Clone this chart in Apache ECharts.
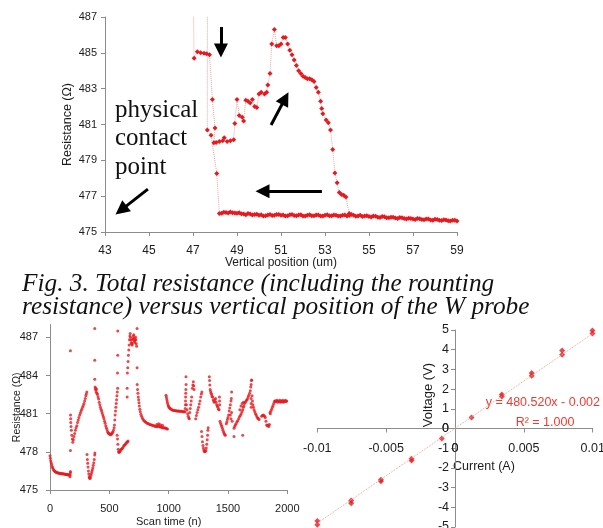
<!DOCTYPE html>
<html><head><meta charset="utf-8">
<script src="https://cdn.jsdelivr.net/npm/echarts@6/dist/echarts.min.js"></script>
<style>html,body{margin:0;padding:0;background:#fff}#c{width:603px;height:528px}</style>
</head><body><div id="c"></div>
<script>
// ---------- Fig. 3 (top): resistance vs vertical position ----------
// approach sweep along the bottom, read right to left [um, ohm]
const approachPts = [
[59.0,475.62],[58.9,475.65],[58.8,475.66],[58.7,475.62],[58.6,475.63],[58.5,475.67],[58.4,475.69],[58.3,475.64],
[58.2,475.66],[58.1,475.70],[58.0,475.71],[57.9,475.66],[57.8,475.67],[57.7,475.72],[57.6,475.73],[57.5,475.68],
[57.4,475.70],[57.3,475.74],[57.2,475.75],[57.1,475.70],[57.0,475.72],[56.9,475.76],[56.8,475.77],[56.7,475.72],
[56.6,475.75],[56.5,475.79],[56.4,475.81],[56.3,475.76],[56.2,475.78],[56.1,475.82],[56.0,475.83],[55.9,475.79],
[55.8,475.80],[55.7,475.85],[55.6,475.86],[55.5,475.81],[55.4,475.83],[55.3,475.88],[55.2,475.89],[55.1,475.84],
[55.0,475.86],[54.9,475.91],[54.8,475.90],[54.7,475.87],[54.6,475.93],[54.5,475.89],[54.4,475.88],[54.3,475.94],
[54.2,475.97],[54.1,475.92],[54.0,475.90],[53.9,475.95],[53.8,475.94],[53.7,475.90],[53.6,475.89],[53.5,475.94],
[53.4,475.95],[53.3,475.91],[53.2,475.91],[53.1,475.96],[53.0,475.94],[52.9,475.90],[52.8,475.90],[52.7,475.95],
[52.6,475.95],[52.5,475.91],[52.4,475.91],[52.3,475.96],[52.2,475.94],[52.1,475.90],[52.0,475.90],[51.9,475.96],
[51.8,475.95],[51.7,475.91],[51.6,475.92],[51.5,475.97],[51.4,475.96],[51.3,475.91],[51.2,475.90],[51.1,475.95],
[51.0,475.93],[50.9,475.98],[50.8,475.97],[50.7,475.93],[50.6,475.92],[50.5,475.97],[50.4,475.95],[50.3,475.91],
[50.2,475.90],[50.1,475.96],[50.0,475.94],[49.9,475.99],[49.8,475.98],[49.7,475.95],[49.6,476.00],[49.5,476.03],
[49.4,475.96],[49.3,476.00],[49.2,476.02],[49.1,476.07],[49.0,476.04],[48.9,476.06],[48.8,476.08],[48.7,476.11],
[48.6,476.06],[48.5,476.09],[48.4,476.10],[48.3,476.05],[48.2,476.03],
[48.08,478.27],[47.82,480.40],[47.65,480.70],[47.66,489.5],[47.0,489.5]
];
// contact plateau and drop
const contactPts = [
[47.05,484.70],[47.2,485.06],[47.35,485.00],[47.5,484.98],[47.62,484.95],[47.75,484.90],
[47.88,482.40],[48.0,480.80],[47.95,479.98],
[48.05,480.00],[48.2,480.05],[48.35,480.10],[48.42,480.26],[48.55,480.05],[48.7,480.10],[48.85,480.15]
];
// retraction loop back to the baseline
const retractPts = [
[48.9,481.06],[49.0,482.40],[49.1,481.50],[49.24,481.40],[49.3,481.20],[49.4,482.36],[49.5,482.30],[49.6,482.20],
[49.7,482.40],[49.8,482.00],[49.9,481.95],[50.0,482.70],[50.1,482.80],[50.25,482.70],[50.35,482.80],[50.4,483.20],
[50.5,483.85],[50.58,485.50],[50.7,486.30],[50.8,485.40],[50.9,485.40],[51.0,485.50],[51.1,485.85],[51.2,485.85],
[51.3,485.50],[51.4,485.15],[51.5,484.90],[51.6,484.60],[51.7,484.30],[51.8,484.00],[51.9,483.85],[52.0,483.70],
[52.1,483.63],[52.2,483.55],[52.3,483.55],[52.4,483.50],[52.5,483.40],[52.6,483.07],[52.7,482.80],[52.8,482.30],
[52.85,481.90],[52.9,481.60],[53.05,481.25],[53.15,481.10],[53.25,480.70],[53.35,479.60],[53.45,478.30],[53.55,477.75],
[53.65,477.20],[53.75,477.10],[53.85,477.05],[53.95,476.95],[54.1,476.03]
];
// annotation arrows [[x1,y1],[x2,y2]] in data units
const arrowsUm = [
[[48.27,486.44],[48.27,485.13]],
[[50.55,480.97],[51.19,482.46]],
[[52.86,477.28],[50.16,477.28]],
[[44.95,477.39],[43.73,476.22]]
];
const posTicks = [43,45,47,49,51,53,55,57,59];
const resTicksTop = [475,477,479,481,483,485,487];

// ---------- bottom left: resistance vs scan time [n, ohm] ----------
const scanPts = [
[0,477.7],[3,477.5],[6,477.3],[10,477.15],[14,477.0],[18,476.85],[22,476.75],[27,476.65],[32,476.55],[38,476.5],
[44,476.45],[50,476.4],[56,476.38],[62,476.36],[68,476.34],[74,476.33],[80,476.32],[86,476.3],[92,476.3],[98,476.28],
[104,476.27],[110,476.28],[116,476.26],[122,476.25],[128,476.24],[134,476.22],[140,476.24],[146,476.2],[152,476.22],
[158,476.18],[164,476.2],[170,476.17],[168,476.05],[172,476.35],[172,476.45],
[172,485.95],[172,478.1],
[173,480.9],[174,480.6],[175,480.3],[177,480.0],[180,479.7],[184,479.3],[188,479.0],[192,478.75],[197,478.95],
[202,479.2],[208,479.45],[214,479.7],[220,479.9],[226,480.05],[232,480.3],[238,480.5],[244,480.7],[250,480.9],
[256,481.05],[262,481.2],[268,481.35],[274,481.5],[280,481.65],[286,481.8],[292,482.0],[297,482.2],[302,482.4],
[306,482.55],[310,482.7],
[312,477.8],[315,477.4],[318,477.1],[321,476.8],[324,476.5],[327,476.25],[330,476.05],[333,475.95],[337,475.9],
[341,476.0],[345,476.15],[349,476.3],[353,476.45],[357,476.6],[361,476.75],[365,476.95],[369,477.15],[373,477.4],
[377,477.75],[378,477.9],
[377,487.7],[377,485.2],[377,483.7],
[380,483.1],[383,482.9],[386,483.0],[389,482.7],[392,482.9],[396,482.6],[400,482.5],[405,482.3],[410,482.15],
[415,481.9],[420,481.7],[425,481.5],[430,481.35],[435,481.2],[440,481.05],[445,480.9],[450,480.75],[455,480.6],
[460,480.4],[465,480.25],[470,480.05],[475,479.9],[480,479.75],[485,479.6],[490,479.5],[495,479.45],[500,479.4],
[505,479.4],[510,479.35],[515,479.4],[520,479.4],[525,479.5],[530,479.55],[535,479.7],[540,479.9],
[543,480.1],[546,480.5],[549,480.9],[552,481.2],[555,481.5],[558,481.8],[561,482.1],[564,482.4],[567,482.7],[570,483.0],
[571,487.5],[571,485.6],[569,484.2],
[566,479.3],[569,479.0],[572,478.6],[575,478.2],[578,478.0],[582,477.95],[586,478.0],[590,478.05],[595,478.15],
[600,478.2],[606,478.25],[612,478.3],[618,478.4],[624,478.5],[630,478.55],[636,478.6],[642,478.7],[648,478.75],
[654,478.8],[658,478.85],
[650,483.0],[650,482.3],
[652,484.2],[655,484.6],[658,485.1],[661,485.6],[664,486.0],[667,486.4],[670,486.8],[673,487.1],[676,487.3],
[679,487.0],[682,486.8],[685,486.6],[688,486.5],[691,486.4],[694,486.5],[697,486.8],[700,486.9],[703,487.1],
[706,487.2],[709,486.9],[712,486.7],[715,486.6],[718,486.8],[721,487.0],[724,486.8],[727,486.5],[730,486.3],
[734,487.7],[734,484.6],
[735,483.3],[738,482.9],[741,482.6],[744,482.3],[747,482.1],[750,481.85],[753,481.6],[757,481.35],[761,481.15],
[766,480.95],[772,480.8],[778,480.65],[785,480.55],[792,480.45],[800,480.38],[808,480.32],[816,480.27],[824,480.22],
[832,480.2],[840,480.15],[848,480.12],[856,480.1],[864,480.08],[872,480.05],[880,480.05],[888,480.0],[896,480.0],
[904,479.98],[912,480.05],[920,480.0],[928,479.95],[936,479.97],[944,479.9],[952,479.92],[960,479.88],[968,479.9],
[976,479.85],[984,479.82],[990,479.8],[900,480.15],[916,480.2],[930,480.12],[948,480.08],
[978,482.45],[981,482.3],[984,482.15],[987,482.0],[990,481.85],[994,481.7],[998,481.6],[1003,481.5],[1008,481.45],
[1014,481.4],[1020,481.35],[1028,481.3],[1036,481.27],[1044,481.25],[1052,481.24],[1060,481.22],[1068,481.21],
[1076,481.2],[1084,481.2],[1092,481.19],[1100,481.18],[1108,481.18],[1116,481.17],[1124,481.16],[1132,481.16],[1138,481.15],
[1140,481.4],[1141,481.7],[1142,482.0],[1143,482.3],[1144,482.6],[1145,482.9],[1146,483.9],[1147,483.3],
[1150,481.7],[1155,481.3],[1160,481.0],[1165,480.8],[1170,480.65],[1174,480.6],
[1178,481.1],[1182,481.4],[1186,481.7],[1190,482.0],[1194,482.3],
[1200,483.0],[1204,483.25],[1208,483.5],[1211,483.2],[1214,482.9],
[1228,480.6],[1234,480.85],[1240,481.1],[1246,481.3],[1252,481.5],[1258,481.75],[1264,482.0],[1270,482.3],[1276,482.55],[1280,482.7],
[1277,479.6],[1281,479.2],[1285,478.8],[1289,478.5],[1293,478.3],[1297,478.15],[1301,478.05],[1305,478.0],[1309,478.05],
[1313,478.1],[1317,478.3],[1321,478.6],[1325,478.95],[1328,479.3],[1331,479.7],[1333,479.9],
[1343,483.9],[1345,483.6],[1347,483.25],[1350,482.9],[1354,482.75],[1358,482.6],[1362,482.5],[1366,482.35],[1371,482.3],
[1376,482.1],[1381,481.95],[1386,481.9],[1391,482.1],[1395,482.2],[1400,481.9],[1405,481.7],[1410,481.6],[1415,481.5],
[1420,481.35],[1425,481.3],[1428,482.3],[1429,482.0],[1430,481.7],
[1433,480.4],[1438,480.25],[1443,480.1],[1448,480.0],[1453,479.85],[1458,479.7],[1463,479.55],[1468,479.45],[1473,479.35],[1478,479.3],
[1486,480.2],[1490,480.35],[1495,480.55],[1500,480.7],[1505,480.9],[1510,481.2],[1515,481.45],[1520,481.7],[1525,482.0],
[1528,482.2],[1531,482.7],[1520,480.9],[1525,480.6],[1530,481.1],[1535,480.4],
[1551,479.2],[1624,479.3],
[1551,479.85],[1556,480.0],[1562,480.1],[1568,480.2],[1575,480.35],[1582,480.45],[1590,480.6],[1597,480.75],[1604,480.85],
[1611,481.0],[1618,481.15],[1624,481.3],[1629,481.5],[1634,481.6],[1600,481.3],[1610,481.6],[1620,481.8],[1630,481.9],
[1640,481.8],[1646,481.9],[1652,482.0],[1658,482.07],[1664,482.15],[1670,482.3],[1676,482.45],[1682,482.6],[1688,482.8],
[1692,483.1],[1695,483.3],[1698,483.6],[1700,483.65],[1695,482.2],[1695,481.8],[1696,481.5],
[1703,482.4],[1706,482.0],[1710,481.7],[1715,481.5],[1720,481.3],[1726,481.15],[1732,481.0],[1738,480.9],[1744,480.75],
[1750,480.65],[1756,480.6],[1762,480.55],
[1784,480.8],[1790,480.85],[1796,480.9],[1802,480.85],[1808,480.8],[1814,480.7],[1820,480.4],[1826,480.1],[1832,480.05],
[1838,480.1],[1844,480.0],[1850,480.15],[1854,481.1],[1857,481.0],
[1862,481.2],[1868,481.35],[1874,481.5],[1880,481.65],[1886,481.8],[1892,481.95],[1896,482.0],
[1900,482.0],[1906,481.95],[1912,482.05],[1918,481.9],[1924,482.0],[1930,481.95],[1936,482.05],[1942,481.9],[1948,482.0],
[1954,481.95],[1960,482.05],[1966,481.9],[1972,482.0],[1978,481.95],[1984,482.05],[1990,481.95],[1995,482.0]
];
const scanTicks = [0,500,1000,1500,2000];
const resTicksScan = [475,478,481,484,487];

// ---------- bottom right: I-V sweep ----------
const ivCurrent = [-0.01,-0.01,-0.00754,-0.00754,-0.00538,-0.00538,-0.00316,-0.00316,-0.00096,0.0012,0.0034,0.0034,0.00557,0.00557,0.00778,0.00778,0.00998,0.00998];
const ivVoltage = [-4.70,-4.88,-3.66,-3.80,-2.60,-2.68,-1.54,-1.63,-0.51,0.56,1.62,1.73,2.68,2.82,3.75,3.96,4.82,4.98];
const trendCurrent = [-0.0104,0.0100];
const trendVoltage = [-5.0,4.82];
const currentTicks = [-0.01,-0.005,0,0.005,0.01];
const voltageTicks = [-5,-4,-3,-2,-1,0,1,2,3,4,5];

const RED = '#e8191e';
const GRAY = '#8c8c8c';
const INK = '#1c1c1c';
const SANS = '"Liberation Sans", Arial, sans-serif';
const SERIF = '"Liberation Serif", "Times New Roman", serif';

function axisBase(fs, margin){
  return {
    type:'value',
    nameMoveOverlap:false,
    axisLine:{show:true, onZero:false, lineStyle:{color:GRAY, width:1}},
    axisTick:{show:true, length:4, lineStyle:{color:GRAY}},
    splitLine:{show:false},
    axisLabel:{color:INK, fontSize:fs, fontFamily:SANS, margin:margin, formatter:v => String(v)},
    nameTextStyle:{color:INK, fontFamily:SANS}
  };
}
const gridTop = {left:105, top:17, width:352, height:215, outerBoundsMode:'none', containLabel:false};
const gridScan = {left:50, top:324.6, width:237.3, height:165.4, outerBoundsMode:'none', containLabel:false};
const gridIV = {left:317.3, top:330, width:275.4, height:197, outerBoundsMode:'none', containLabel:false};

const chart = echarts.init(document.getElementById('c'), null, {renderer:'canvas'});
const xTop = Object.assign(axisBase(12,13), {gridIndex:0, min:posTicks[0], max:posTicks[posTicks.length-1], interval:2,
  name:'Vertical position (um)', nameLocation:'middle', nameGap:25});
xTop.nameTextStyle.fontSize = 12;
const yTop = Object.assign(axisBase(11,8), {gridIndex:0, min:resTicksTop[0], max:resTicksTop[resTicksTop.length-1], interval:2,
  name:'Resistance (Ω)', nameLocation:'middle', nameGap:31});
yTop.nameTextStyle.fontSize = 12.5;
const xScan = Object.assign(axisBase(11,13), {gridIndex:1, min:scanTicks[0], max:scanTicks[scanTicks.length-1], interval:500,
  name:'Scan time (n)', nameLocation:'middle', nameGap:26});
xScan.nameTextStyle.fontSize = 11;
const yScan = Object.assign(axisBase(11,12), {gridIndex:1, min:475, max:488,
  name:'Resistance (Ω)', nameLocation:'middle', nameGap:27});
yScan.axisLabel.customValues = resTicksScan;
yScan.axisTick.customValues = resTicksScan;
yScan.nameTextStyle.fontSize = 10.5;
// I-V axes cross at the origin
const cMin = currentTicks[0], cMax = currentTicks[currentTicks.length-1];
const vMin = voltageTicks[0], vMax = voltageTicks[voltageTicks.length-1];
const xIV = Object.assign(axisBase(12.5,14), {gridIndex:2, min:cMin, max:cMax, interval:0.005, position:'bottom',
  offset: -gridIV.height * (0 - vMin) / (vMax - vMin)});
const yIV = Object.assign(axisBase(12.5,6), {gridIndex:2, min:vMin, max:vMax, interval:1, position:'left',
  offset: -gridIV.width * (0 - cMin) / (cMax - cMin)});

const graphics = [
  {type:'text', x:115, y:138.6, style:{text:'physical\ncontact\npoint', font:'25px '+SERIF, fill:'#111', lineHeight:28.5, verticalAlign:'middle'}},
  {type:'text', x:22, y:284, style:{text:'Fig. 3. Total resistance (including the rounting', font:'italic 25.3px '+SERIF, fill:'#111', verticalAlign:'middle'}},
  {type:'text', x:22, y:307, style:{text:'resistance) versus vertical position of the W probe', font:'italic 25.3px '+SERIF, fill:'#111', verticalAlign:'middle'}},
  {type:'text', x:600, y:403, style:{text:'y = 480.520x - 0.002', font:'12.5px '+SANS, fill:'#f03a30', align:'right', verticalAlign:'middle'}},
  {type:'text', x:545, y:423, style:{text:'R² = 1.000', font:'12.5px '+SANS, fill:'#f03a30', align:'center', verticalAlign:'middle'}},
  {type:'text', x:428, y:395, rotation:Math.PI/2, style:{text:'Voltage (V)', font:'13px '+SANS, fill:INK, align:'center', verticalAlign:'middle'}},
  {type:'text', x:453, y:467, style:{text:'Current (A)', font:'12.5px '+SANS, fill:INK, align:'left', verticalAlign:'middle'}}
];

const option = {
  animation:false,
  backgroundColor:'#ffffff',
  grid:[gridTop, gridScan, gridIV],
  xAxis:[xTop, xScan, xIV],
  yAxis:[yTop, yScan, yIV],
  series:[
    {type:'line', xAxisIndex:0, yAxisIndex:0, clip:true,
     data: approachPts.concat(contactPts, retractPts),
     symbol:'diamond', symbolSize:5, itemStyle:{color:RED},
     lineStyle:{color:'#f4a0a0', width:1, type:'dotted'},
     emphasis:{disabled:true},
     markLine:{silent:true, symbol:['none','triangle'], symbolSize:14,
       label:{show:false}, emphasis:{disabled:true},
       lineStyle:{color:'#000', width:3, type:'solid'},
       data: arrowsUm.map(a => [{coord:a[0]},{coord:a[1]}])}
    },
    {type:'scatter', xAxisIndex:1, yAxisIndex:1, data:scanPts, symbol:'circle', symbolSize:3,
     itemStyle:{color:RED}, emphasis:{disabled:true}},
    {type:'line', xAxisIndex:2, yAxisIndex:2, data:trendCurrent.map((c,i)=>[c,trendVoltage[i]]),
     symbol:'none', lineStyle:{color:'#f3a28c', width:1, type:'dotted'}, emphasis:{disabled:true}},
    {type:'scatter', xAxisIndex:2, yAxisIndex:2, data:ivCurrent.map((c,i)=>[c,ivVoltage[i]]),
     symbol:'diamond', symbolSize:6, itemStyle:{color:RED}, emphasis:{disabled:true}}
  ],
  graphic: graphics
};
chart.setOption(option);

// the "0" tick labels at the crossing of the I-V axes
const origin = chart.convertToPixel({gridIndex:2}, [0, 0]);
chart.setOption({graphic: graphics.concat([
  {type:'text', x:origin[0], y:origin[1] + 14, style:{text:String(currentTicks[2]), font:'12.5px '+SANS, fill:INK, align:'center', verticalAlign:'top'}},
  {type:'text', x:origin[0] - 6, y:origin[1], style:{text:String(voltageTicks[5]), font:'12.5px '+SANS, fill:INK, align:'right', verticalAlign:'middle'}}
])});
</script></body></html>
